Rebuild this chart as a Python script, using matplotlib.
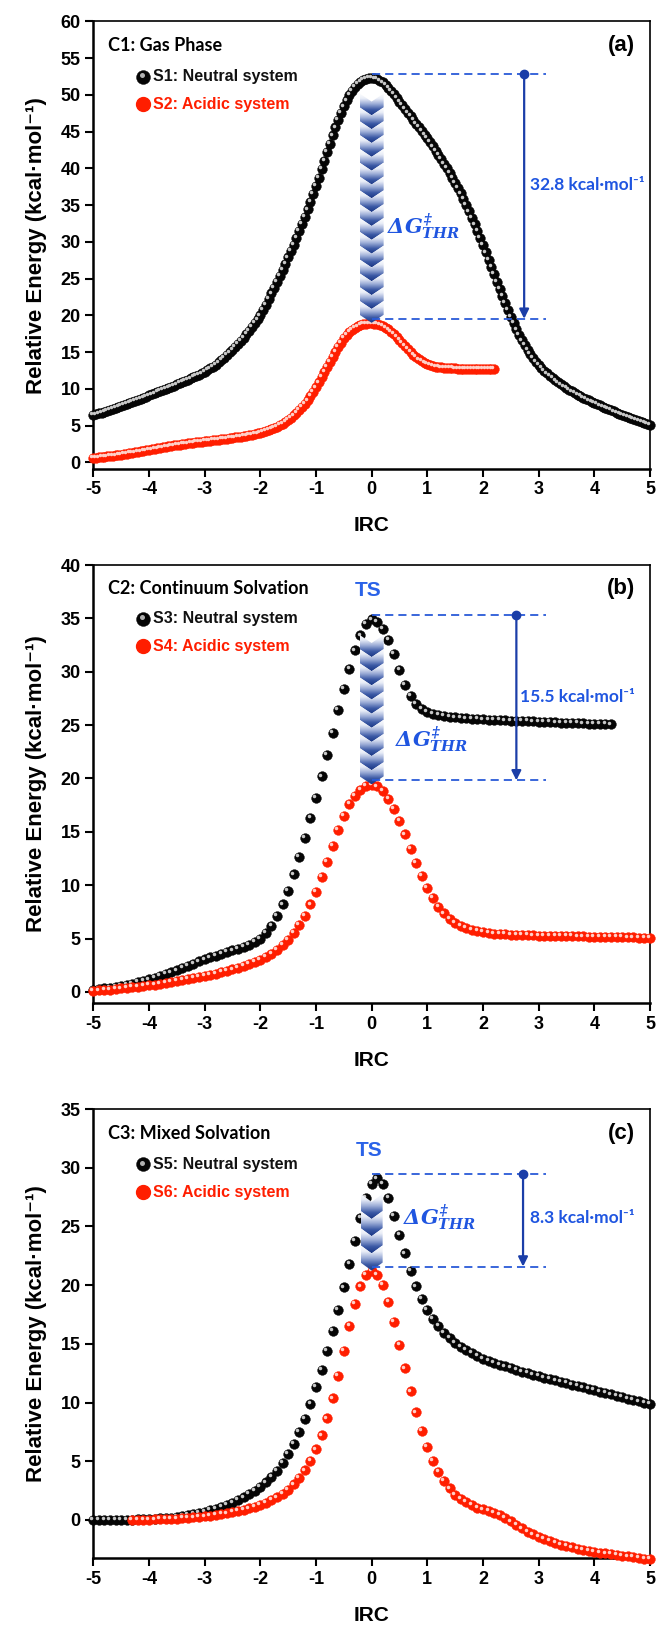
import numpy as np
import matplotlib.pyplot as plt
from matplotlib.colors import LinearSegmentedColormap
from matplotlib.patches import Polygon
from matplotlib.transforms import ScaledTranslation

plt.rcParams['font.family'] = ['Liberation Sans', 'DejaVu Sans']
plt.rcParams['font.weight'] = 'bold'
plt.rcParams['axes.unicode_minus'] = False
plt.rcParams['mathtext.fontset'] = 'custom'
plt.rcParams['mathtext.rm'] = 'DejaVu Serif:italic:bold'
plt.rcParams['mathtext.it'] = 'DejaVu Serif:italic:bold'
plt.rcParams['mathtext.bf'] = 'DejaVu Serif:italic:bold'

# ---------------- data (relative energy, kcal/mol) ----------------
# panel (a): IRC step 0.05
s1_start, s1_step = -5.0, 0.05
s1_energy = [
    6.40, 6.52, 6.65, 6.77, 6.90, 7.02, 7.15, 7.28, 7.42, 7.56,
    7.70, 7.83, 7.97, 8.10, 8.24, 8.38, 8.52, 8.66, 8.80, 8.95,
    9.10, 9.24, 9.39, 9.53, 9.68, 9.83, 9.98, 10.13, 10.28, 10.44,
    10.60, 10.76, 10.92, 11.08, 11.25, 11.41, 11.58, 11.75, 11.93, 12.11,
    12.30, 12.53, 12.78, 13.03, 13.30, 13.61, 13.93, 14.26, 14.60, 14.96,
    15.33, 15.71, 16.10, 16.53, 16.97, 17.43, 17.90, 18.41, 18.93, 19.46,
    20.00, 20.71, 21.45, 22.22, 23.00, 23.78, 24.57, 25.38, 26.20, 27.04,
    27.88, 28.74, 29.60, 30.53, 31.47, 32.43, 33.40, 34.43, 35.47, 36.53,
    37.60, 38.75, 39.90, 41.05, 42.20, 43.37, 44.50, 45.57, 46.60, 47.55,
    48.45, 49.25, 50.00, 50.55, 51.05, 51.45, 51.80, 52.03, 52.20, 52.28,
    52.30, 52.25, 52.15, 51.95, 51.70, 51.37, 51.00, 50.57, 50.10, 49.60,
    49.10, 48.60, 48.10, 47.60, 47.10, 46.60, 46.10, 45.60, 45.10, 44.60,
    44.10, 43.56, 43.00, 42.43, 41.85, 41.26, 40.65, 40.03, 39.40, 38.74,
    38.05, 37.34, 36.60, 35.81, 35.00, 34.16, 33.30, 32.39, 31.45, 30.51,
    29.55, 28.58, 27.60, 26.60, 25.60, 24.60, 23.60, 22.62, 21.65, 20.71,
    19.80, 18.93, 18.10, 17.33, 16.60, 15.93, 15.30, 14.73, 14.20, 13.71,
    13.25, 12.84, 12.45, 12.09, 11.75, 11.44, 11.15, 10.87, 10.60, 10.34,
    10.10, 9.87, 9.65, 9.43, 9.22, 9.02, 8.82, 8.63, 8.44, 8.26,
    8.08, 7.91, 7.74, 7.57, 7.41, 7.25, 7.09, 6.93, 6.78, 6.63,
    6.48, 6.33, 6.19, 6.05, 5.91, 5.77, 5.63, 5.49, 5.36, 5.23,
    5.10]
s2_start, s2_step = -5.0, 0.05
s2_energy = [
    0.60, 0.64, 0.68, 0.72, 0.76, 0.80, 0.85, 0.90, 0.95, 1.00,
    1.06, 1.12, 1.18, 1.24, 1.30, 1.36, 1.43, 1.49, 1.56, 1.63,
    1.70, 1.77, 1.84, 1.90, 1.97, 2.03, 2.10, 2.16, 2.23, 2.29,
    2.35, 2.40, 2.46, 2.51, 2.57, 2.62, 2.68, 2.73, 2.78, 2.83,
    2.88, 2.92, 2.97, 3.01, 3.06, 3.10, 3.15, 3.19, 3.24, 3.28,
    3.33, 3.38, 3.43, 3.49, 3.55, 3.62, 3.69, 3.77, 3.85, 3.94,
    4.03, 4.14, 4.25, 4.38, 4.52, 4.68, 4.85, 5.04, 5.25, 5.49,
    5.75, 6.05, 6.38, 6.75, 7.15, 7.50, 7.90, 8.43, 9.00, 9.60,
    10.20, 10.88, 11.60, 12.30, 13.00, 13.70, 14.40, 15.07, 15.70, 16.30,
    16.90, 17.32, 17.70, 18.02, 18.30, 18.51, 18.68, 18.80, 18.88, 18.91,
    18.92, 18.88, 18.82, 18.70, 18.55, 18.34, 18.10, 17.80, 17.45, 17.06,
    16.65, 16.22, 15.80, 15.39, 15.00, 14.63, 14.30, 14.01, 13.75, 13.53,
    13.35, 13.21, 13.10, 13.02, 12.95, 12.91, 12.87, 12.84, 12.82, 12.80,
    12.78, 12.76, 12.75, 12.74, 12.73, 12.72, 12.72, 12.71, 12.71, 12.70,
    12.70, 12.70, 12.70, 12.70, 12.70]

# panel (b): IRC step 0.1
s3_start, s3_step = -5.0, 0.1
s3_energy = [
    0.20, 0.26, 0.33, 0.40, 0.48, 0.57, 0.67, 0.78, 0.90, 1.03,
    1.17, 1.32, 1.48, 1.65, 1.83, 2.02, 2.22, 2.43, 2.64, 2.85,
    3.05, 3.23, 3.40, 3.56, 3.72, 3.88, 4.04, 4.22, 4.42, 4.67,
    5.00, 5.50, 6.20, 7.10, 8.20, 9.50, 11.00, 12.65, 14.40, 16.30,
    18.20, 20.20, 22.20, 24.30, 26.40, 28.40, 30.30, 32.00, 33.40, 34.50,
    34.90, 34.70, 34.00, 33.00, 31.70, 30.20, 28.80, 27.70, 26.95, 26.50,
    26.22, 26.05, 25.93, 25.85, 25.78, 25.72, 25.67, 25.63, 25.59, 25.56,
    25.53, 25.50, 25.48, 25.46, 25.44, 25.42, 25.40, 25.38, 25.36, 25.34,
    25.32, 25.30, 25.28, 25.26, 25.24, 25.22, 25.20, 25.18, 25.16, 25.14,
    25.12, 25.10, 25.08, 25.06]
s4_start, s4_step = -5.0, 0.1
s4_energy = [
    0.10, 0.14, 0.18, 0.22, 0.27, 0.32, 0.37, 0.43, 0.49, 0.55,
    0.62, 0.69, 0.76, 0.84, 0.92, 1.00, 1.09, 1.18, 1.28, 1.38,
    1.49, 1.60, 1.72, 1.84, 1.97, 2.11, 2.26, 2.42, 2.60, 2.80,
    3.02, 3.28, 3.58, 3.94, 4.37, 4.88, 5.50, 6.25, 7.15, 8.20,
    9.40, 10.75, 12.20, 13.70, 15.15, 16.50, 17.60, 18.35, 18.95, 19.30,
    19.40, 19.25, 18.80, 18.10, 17.15, 16.00, 14.75, 13.40, 12.10, 10.85,
    9.75, 8.80, 8.00, 7.35, 6.85, 6.47, 6.18, 5.96, 5.80, 5.68,
    5.59, 5.52, 5.47, 5.43, 5.40, 5.37, 5.35, 5.33, 5.31, 5.29,
    5.27, 5.26, 5.25, 5.24, 5.23, 5.22, 5.21, 5.20, 5.19, 5.18,
    5.17, 5.16, 5.15, 5.14, 5.13, 5.12, 5.11, 5.10, 5.09, 5.08,
    5.07]

# panel (c): IRC step 0.1
s5_start, s5_step = -5.0, 0.1
s5_energy = [
    0.00, 0.00, 0.00, 0.00, 0.01, 0.01, 0.02, 0.03, 0.04, 0.05,
    0.07, 0.09, 0.12, 0.16, 0.20, 0.25, 0.32, 0.40, 0.49, 0.59,
    0.70, 0.82, 0.96, 1.11, 1.28, 1.47, 1.68, 1.92, 2.18, 2.48,
    2.82, 3.20, 3.65, 4.20, 4.85, 5.60, 6.50, 7.50, 8.60, 9.90,
    11.30, 12.80, 14.40, 16.10, 17.90, 19.80, 21.80, 23.80, 25.70, 27.40,
    28.60, 29.10, 28.60, 27.40, 25.90, 24.30, 22.70, 21.20, 19.90, 18.80,
    17.90, 17.10, 16.50, 15.95, 15.50, 15.10, 14.75, 14.45, 14.20, 13.95,
    13.75, 13.55, 13.38, 13.22, 13.07, 12.92, 12.78, 12.64, 12.51, 12.38,
    12.25, 12.13, 12.01, 11.89, 11.77, 11.65, 11.53, 11.41, 11.29, 11.17,
    11.05, 10.93, 10.81, 10.69, 10.57, 10.45, 10.33, 10.21, 10.09, 9.97,
    9.85]
s6_start, s6_step = -4.3, 0.1
s6_energy = [
    0.00, 0.01, 0.02, 0.03, 0.04, 0.05, 0.07, 0.09, 0.11, 0.14,
    0.17, 0.21, 0.25, 0.30, 0.35, 0.41, 0.48, 0.56, 0.65, 0.75,
    0.86, 0.98, 1.12, 1.28, 1.46, 1.67, 1.92, 2.22, 2.58, 3.02,
    3.56, 4.22, 5.02, 6.00, 7.20, 8.65, 10.35, 12.30, 14.40, 16.50,
    18.40, 19.90, 20.85, 21.20, 20.90, 20.00, 18.60, 16.85, 14.90, 12.90,
    10.95, 9.15, 7.55, 6.20, 5.05, 4.10, 3.32, 2.68, 2.16, 1.80,
    1.50, 1.25, 1.05, 0.90, 0.76, 0.60, 0.40, 0.15, -0.13, -0.43,
    -0.73, -1.00, -1.24, -1.45, -1.64, -1.81, -1.96, -2.10, -2.23, -2.34,
    -2.44, -2.53, -2.62, -2.70, -2.78, -2.85, -2.92, -2.99, -3.05, -3.11,
    -3.17, -3.23, -3.29, -3.35]

panel_tags = ['(a)', '(b)', '(c)']
panel_titles = ['C1: Gas Phase', 'C2: Continuum Solvation', 'C3: Mixed Solvation']
neutral_names = ['S1: Neutral system', 'S3: Neutral system', 'S5: Neutral system']
acidic_names = ['S2: Acidic system', 'S4: Acidic system', 'S6: Acidic system']
barrier_labels = ['32.8', '15.5', '8.3']
y_tops = [60, 40, 35]
y_bottoms = [-0.9, -1.05, -3.25]

neutral = [(s1_start, s1_step, s1_energy), (s3_start, s3_step, s3_energy), (s5_start, s5_step, s5_energy)]
acidic = [(s2_start, s2_step, s2_energy), (s4_start, s4_step, s4_energy), (s6_start, s6_step, s6_energy)]

# layout / styling per panel
ax_rects = [[0.142, 0.7116, 0.8473, 0.2752],
            [0.142, 0.3831, 0.8473, 0.2694],
            [0.142, 0.0418, 0.8473, 0.2761]]
n_chev = [16, 10, 4]
chev_halfw = [12, 12, 11]
arrow_x = [2.74, 2.60, 2.72]
barrier_text_xy = [(2.84, 37.7), (2.66, 27.6), (2.84, 25.7)]
dg_text_xy = [(0.28, 32.0), (0.42, 23.6), (0.57, 25.7)]
ts_text_xy = [None, (-0.07, 37.6), (-0.05, 31.5)]

blue_txt = '#1f55e0'
blue_line = '#2a5bd8'
blue_dark = '#1b3ea8'
red = '#ff1e00'
chev_cmap = LinearSegmentedColormap.from_list(
    'chev', ['#1a3684', '#3c5aa6', '#9aabd6', '#e9edf7', '#ffffff'])

fig = plt.figure(figsize=(6.57, 16.26), dpi=100)


def balls(ax, x, y, base, light, ms=7.0, z=3, transform=None):
    tr = ax.transData if transform is None else transform
    ax.plot(x, y, 'o', ms=ms, color=base, mec=base, mew=0.3, zorder=z,
            clip_on=False, transform=tr)
    off = ScaledTranslation(-1.3 / 72, 1.3 / 72, fig.dpi_scale_trans)
    ax.plot(x, y, 'o', ms=ms * 0.36, color=light, mew=0, zorder=z + 0.1,
            clip_on=False, transform=tr + off)


for i in range(3):
    ax = fig.add_axes(ax_rects[i])
    ax.set_xlim(-5, 5)
    ax.set_ylim(y_bottoms[i], y_tops[i])
    ax.set_xticks(range(-5, 6))
    ax.set_yticks(range(0, y_tops[i] + 1, 5))
    ax.tick_params(direction='out', length=6, width=1.5, labelsize=13, pad=3)
    for lab in ax.get_xticklabels() + ax.get_yticklabels():
        lab.set_fontweight('bold')
    for s in ['left', 'bottom']:
        ax.spines[s].set_linewidth(1.8)
    for s in ['top', 'right']:
        ax.spines[s].set_linewidth(1.2)
    ax.set_xlabel('IRC', fontsize=15, fontweight='bold', labelpad=13)
    ax.set_ylabel('Relative Energy (kcal·mol⁻¹)', fontsize=16, fontweight='bold', labelpad=10)

    pos = ax.get_position()
    h_px = pos.height * fig.get_figheight() * fig.dpi
    w_px = pos.width * fig.get_figwidth() * fig.dpi
    dy = (y_tops[i] - y_bottoms[i]) / h_px
    dx = 10.0 / w_px

    x0, st, en = neutral[i]
    xn = x0 + st * np.arange(len(en))
    balls(ax, xn, en, '#050505', '#c8c8c8', z=3)
    x0, st, ea = acidic[i]
    xa = x0 + st * np.arange(len(ea))
    balls(ax, xa, ea, red, '#ffd0c8', z=4)

    # barrier guides
    y_top = max(en) + 4.5 * dy
    y_bot = max(ea) + 4.5 * dy
    for yy in (y_top, y_bot):
        ax.plot([0, 3.14], [yy, yy], ls=(0, (4.5, 2.8)), color=blue_line, lw=1.3, zorder=6)
    ax.annotate('', xy=(arrow_x[i], y_bot), xytext=(arrow_x[i], y_top),
                arrowprops=dict(arrowstyle='-|>', color=blue_dark, lw=1.6,
                                mutation_scale=14, shrinkA=0, shrinkB=0), zorder=7)
    ax.plot(arrow_x[i], y_top, 'o', ms=6, color=blue_dark, zorder=8)
    bx, by = barrier_text_xy[i]
    ax.text(bx, by, barrier_labels[i] + ' kcal·mol⁻¹', color=blue_txt, fontsize=12.5,
            fontweight='bold', family=['Lato', 'DejaVu Sans'], ha='left', va='center', zorder=9)
    gx, gy = dg_text_xy[i]
    ax.text(gx, gy, r'$ΔG^{‡}_{THR}$', color=blue_txt, fontsize=15, ha='left', va='center', zorder=9)
    if ts_text_xy[i] is not None:
        tx, ty = ts_text_xy[i]
        ax.text(tx, ty, 'TS', color='#2a62e8', fontsize=15, fontweight='bold', ha='center', va='center')

    # chevron stack
    hw = chev_halfw[i] * dx
    depth = 8 * dy
    c_top = y_top - 20 * dy
    c_bot = y_bot - 4 * dy
    t = (c_top - c_bot - depth) / n_chev[i]
    grad = np.linspace(0, 1, 64).reshape(-1, 1)
    for k in range(n_chev[i]):
        yt = c_top - k * t
        verts = [(-hw, yt), (0, yt - depth), (hw, yt), (hw, yt - t),
                 (0, yt - depth - t), (-hw, yt - t)]
        poly = Polygon(verts, closed=True, transform=ax.transData)
        im = ax.imshow(grad, extent=[-hw, hw, yt - depth - t, yt], cmap=chev_cmap,
                       origin='lower', aspect='auto', zorder=5, interpolation='bilinear')
        im.set_clip_path(poly)
    ax.set_xlim(-5, 5)
    ax.set_ylim(y_bottoms[i], y_tops[i])

    # labels and legend
    ax.text(0.027, 0.946, panel_titles[i], transform=ax.transAxes, fontsize=13,
            fontweight='bold', family=['Lato', 'DejaVu Sans'], ha='left', va='center')
    ax.text(0.948, 0.946, panel_tags[i], transform=ax.transAxes, fontsize=16,
            fontweight='bold', ha='center', va='center')
    balls(ax, [0.09], [0.877], '#050505', '#b0b0b0', ms=10, z=10, transform=ax.transAxes)
    ax.plot([0.09], [0.815], 'o', ms=10, color=red, transform=ax.transAxes, zorder=10, clip_on=False)
    ax.text(0.108, 0.877, neutral_names[i], transform=ax.transAxes, fontsize=11.5,
            fontweight='bold', family=['Liberation Sans Narrow', 'Liberation Sans'],
            ha='left', va='center', color='#111111')
    ax.text(0.108, 0.815, acidic_names[i], transform=ax.transAxes, fontsize=11.5,
            fontweight='bold', family=['Liberation Sans Narrow', 'Liberation Sans'],
            ha='left', va='center', color=red)

fig.savefig('out.png', dpi=100)
